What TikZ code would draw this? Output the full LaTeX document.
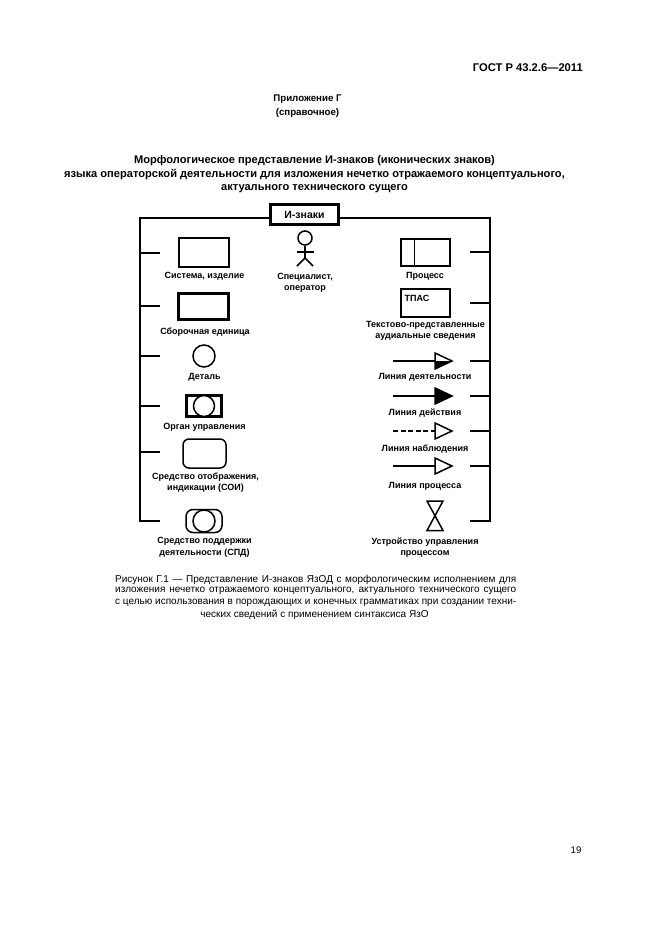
\documentclass[tikz,border=0pt]{standalone}
\usepackage{fontspec}
\setmainfont{Liberation Sans}
\tikzset{
  lab/.style={font=\fontsize{9}{11.5}\selectfont\bfseries,align=center,inner sep=0pt,yshift=-1pt},
  head/.style={font=\fontsize{11.1}{13.5}\selectfont\bfseries,align=center,inner sep=0pt},
  captext/.style={font=\fontsize{10}{12}\selectfont,inner sep=0pt,anchor=west},
  bus/.style={line width=1.7pt},
  thin shape/.style={draw,line width=1.5pt},
  thick shape/.style={draw,line width=2.6pt},
  tipopen/.style={draw,line width=1.5pt,fill=white},
  obsdash/.style={dash pattern=on 5pt off 2.5pt},
}
\newcommand{\capline}[1]{\makebox[401pt][s]{#1}}
\begin{document}
\begin{tikzpicture}[x=1pt,y=-1pt]
\useasboundingbox[fill=white] (0,0) rectangle (661,935);
% page texts
\node[head,anchor=east,font=\fontsize{11.2}{13}\selectfont\bfseries] (std) at (583,68) {ГОСТ Р 43.2.6—2011};
\node[head,font=\fontsize{9.7}{13.5}\selectfont\bfseries] (app) at (307.5,106) {Приложение Г\\(справочное)};
\node[head] (title) at (314.5,174.5) {Морфологическое представление И-знаков (иконических знаков)\\языка операторской деятельности для изложения нечетко отражаемого концептуального,\\актуального технического сущего};
% root
\node[draw,line width=2.6pt,minimum width=68pt,minimum height=20pt,inner sep=0pt,font=\fontsize{10.5}{12}\selectfont\bfseries] (root) at (304.5,214.5) {И-знаки};
% bus
\coordinate (lt) at (140,218); \coordinate (lb) at (140,521);
\coordinate (rt) at (490,218); \coordinate (rb) at (490,521);
\coordinate (lbe) at (160,521); \coordinate (rbe) at (470,521);
\draw[bus] (root.west |- lt) -- (lt) -- (lb) -- (lbe);
\draw[bus] (root.east |- rt) -- (rt) -- (rb) -- (rbe);
\foreach \y in {253,306,356,406,452} {
  \coordinate (a\y) at (140,\y); \coordinate (b\y) at (160,\y);
  \draw[bus] (a\y) -- (b\y);
}
\foreach \y in {252,303,361,396,431,466} {
  \coordinate (c\y) at (490,\y); \coordinate (d\y) at (470,\y);
  \draw[bus] (c\y) -- (d\y);
}
% left column
\node[thin shape,minimum width=50pt,minimum height=29pt,inner sep=0pt] (sys) at (204,252.5) {};
\node[lab] (sysl) at (204.5,275.5) {Система, изделие};
\node[thick shape,minimum width=50pt,minimum height=26pt,inner sep=0pt] (asm) at (203.5,306.5) {};
\node[lab] (asml) at (205,331.5) {Сборочная единица};
\node[thin shape,circle,minimum size=22pt,inner sep=0pt] (det) at (204,356) {};
\node[lab] (detl) at (204.5,376.5) {Деталь};
\node[thick shape,minimum width=35pt,minimum height=21pt,inner sep=0pt] (org) at (204,406) {};
\node[thin shape,circle,fill=white,minimum size=21pt,inner sep=0pt] (orgc) at (204,406) {};
\node[lab] (orgl) at (204.5,426.5) {Орган управления};
\node[thin shape,rounded corners=6pt,minimum width=43pt,minimum height=29pt,inner sep=0pt] (soi) at (204.5,453.5) {};
\node[lab] (soil) at (205.5,481.5) {Средство отображения,\\индикации (СОИ)};
\node[thin shape,rounded corners=7pt,minimum width=36pt,minimum height=23pt,inner sep=0pt] (spd) at (204,521) {};
\node[thin shape,circle,fill=white,minimum size=22pt,inner sep=0pt] (spdc) at (204,521) {};
\node[lab] (spdl) at (204.5,546.5) {Средство поддержки\\деятельности (СПД)};
% person
\node[thin shape,circle,minimum size=14pt,inner sep=0pt] (phead) at (305,238) {};
\coordinate (ph) at (305,258);
\coordinate (pl) at (296.5,252); \coordinate (pr) at (313.5,252);
\coordinate (ll) at (297,266); \coordinate (lr) at (313,266);
\draw[line width=1.5pt] (phead.south) -- (ph);
\draw[line width=1.5pt] (pl) -- (pr);
\draw[line width=1.5pt] (ll) -- (ph) -- (lr);
\node[lab] (pers) at (305,282) {Специалист,\\оператор};
% right column
\node[thin shape,minimum width=49pt,minimum height=27pt,inner sep=0pt] (proc) at (425.5,252.5) {};
\draw[line width=1.5pt] ([xshift=14pt]proc.north west) -- ([xshift=14pt]proc.south west);
\node[lab] (procl) at (425,275.5) {Процесс};
\node[thin shape,minimum width=49pt,minimum height=28pt,inner sep=0pt] (tpas) at (425.5,303) {};
\node[lab,font=\fontsize{9}{10}\selectfont\bfseries] (tpast) at (417,297) {ТПАС};
\node[lab] (tpasl) at (425.5,330) {Текстово-представленные\\аудиальные сведения};
% arrows
\foreach \n/\y/\st/\ww/\fl in {act/361/solid/1.6pt/white, dei/396/solid/2.4pt/black, obs/431/obsdash/1.5pt/white, pro/466/solid/1.6pt/white}{
  \coordinate (\n s) at (393,\y);
  \coordinate (\n b) at (435,\y);
  \coordinate (\n u) at (435,\y-8);
  \coordinate (\n d) at (435,\y+8);
  \coordinate (\n t) at (452,\y);
  \draw[line width=\ww,\st] (\n s) -- (\n b);
  \draw[tipopen,fill=\fl] (\n u) -- (\n t) -- (\n d) -- cycle;
}
\fill (actb) -- (actt) -- (actd) -- cycle;
\node[lab] (actl) at (425,376) {Линия деятельности};
\node[lab] (deil) at (425,412.5) {Линия действия};
\node[lab] (obsl) at (425,448) {Линия наблюдения};
\node[lab] (prol) at (425,485.5) {Линия процесса};
% valve
\coordinate (v1) at (427,501); \coordinate (v2) at (443,501);
\coordinate (v3) at (427,530.5); \coordinate (v4) at (443,530.5);
\draw[line width=1.5pt] (v1) -- (v2) -- (v3) -- (v4) -- cycle;
\node[lab] (vall) at (425,546.5) {Устройство управления\\процессом};
% caption
\node[captext] (c1) at (115,579.5) {\capline{Рисунок Г.1 — Представление И-знаков ЯзОД с морфологическим исполнением для}};
\node[captext] (c2) at (115,591) {\capline{изложения нечетко отражаемого концептуального, актуального технического сущего}};
\node[captext] (c3) at (115,603) {\capline{с целью использования в порождающих и конечных грамматиках при создании техни-}};
\node[captext,anchor=center] (c4) at (314.5,614.5) {ческих сведений с применением синтаксиса ЯзО};
\node[font=\fontsize{9.6}{12}\selectfont,inner sep=0pt] (pg) at (576,850) {19};
\end{tikzpicture}
\end{document}
